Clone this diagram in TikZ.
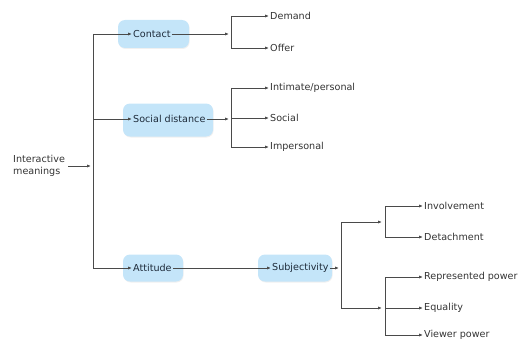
\documentclass[tikz,border=0pt]{standalone}
\usepackage{fontspec}
\setmainfont{DejaVu Sans}
\usetikzlibrary{arrows.meta,shadows,backgrounds}
\definecolor{linec}{HTML}{4A4A4A}
\definecolor{txtc}{HTML}{333333}
\definecolor{boxc}{HTML}{C4E5F9}
\definecolor{boxtxt}{HTML}{1E2B3A}
\tikzset{
  conn/.style={draw=linec, line width=0.8pt},
  arr/.style={conn, -{Latex[length=4pt,width=3.2pt]}},
  lbl/.style={text=txtc, inner sep=1pt, anchor=west, font=\fontsize{9.6}{11.5}\selectfont},
  boxlbl/.style={text=boxtxt, inner sep=1pt, anchor=west, font=\fontsize{9.6}{11.5}\selectfont},
  roundbox/.style={fill=boxc, draw=none, rounded corners=7pt, inner sep=0pt,
    drop shadow={opacity=0.12, shadow xshift=0.6pt, shadow yshift=-1pt}},
}
\begin{document}
\begin{tikzpicture}[x=1pt,y=-1pt]
\useasboundingbox (0,0) rectangle (521,342);
% boxes
\node[roundbox, minimum width=71pt, minimum height=28pt] (cbox) at (153.5,34) {};
\node[roundbox, minimum width=90pt, minimum height=33pt] (sbox) at (168,120) {};
\node[roundbox, minimum width=60pt, minimum height=27pt] (abox) at (153,268) {};
\node[roundbox, minimum width=74pt, minimum height=27pt] (subbox) at (295,268) {};
% box texts
\node[boxlbl] (contact) at (132,34) {Contact};
\node[boxlbl] (social) at (132,119) {Social distance};
\node[boxlbl] (attitude) at (132,268) {Attitude};
\node[boxlbl] (subj) at (271,268) {Subjectivity};
% root
\node[lbl, align=left] (im) at (12,166) {Interactive\\meanings};
% leaves
\node[lbl] (demand) at (269,16) {Demand};
\node[lbl] (offer) at (269,48) {Offer};
\node[lbl] (intimate) at (269,88) {Intimate/personal};
\node[lbl] (soc) at (269,118) {Social};
\node[lbl] (imp) at (269,147) {Impersonal};
\node[lbl] (inv) at (423,206) {Involvement};
\node[lbl] (det) at (423,237) {Detachment};
\node[lbl] (rep) at (423,277) {Represented power};
\node[lbl] (eq) at (423,308) {Equality};
\node[lbl] (view) at (423,335) {Viewer power};
% junction coordinates
\coordinate (r0) at (91,166);
\coordinate (vtop) at (93,34);
\coordinate (vmid) at (93,119);
\coordinate (vbot) at (93,268);
\coordinate (c1) at (229,34);
\coordinate (c1t) at (231,16);
\coordinate (c1b) at (231,48);
\coordinate (s1) at (229,119);
\coordinate (s1t) at (231,88);
\coordinate (s1b) at (231,147);
\coordinate (s1m) at (231,118);
\coordinate (u1) at (339,268);
\coordinate (u1t) at (341,222);
\coordinate (u1b) at (341,308);
\coordinate (u2) at (382,222);
\coordinate (u3) at (382,308);
\coordinate (p1t) at (385,206);
\coordinate (p1b) at (385,237);
\coordinate (p2t) at (385,277);
\coordinate (p2b) at (385,335);
\coordinate (p2m) at (385,308);
% root connectors
\draw[arr] (im.east |- r0) ++(2,0) -- (r0);
\draw[conn] (vtop) -- (vbot);
\draw[arr] (vtop) -- (contact.west);
\draw[arr] (vmid) -- (social.west);
\draw[arr] (vbot) -- (attitude.west);
% contact
\draw[arr] (contact.east) -- (c1);
\draw[conn] (c1t) -- (c1b);
\draw[arr] (c1t) -- (demand.west);
\draw[arr] (c1b) -- (offer.west);
% social distance
\draw[arr] (social.east) -- (s1);
\draw[conn] (s1t) -- (s1b);
\draw[arr] (s1t) -- (intimate.west);
\draw[arr] (s1m) -- (soc.west);
\draw[arr] (s1b) -- (imp.west);
% attitude
\draw[arr] (attitude.east) -- (subj.west);
\draw[arr] (subj.east) -- (u1);
\draw[conn] (u1t) -- (u1b);
\draw[arr] (u1t) -- (u2);
\draw[arr] (u1b) -- (u3);
\draw[conn] (p1t) -- (p1b);
\draw[conn] (p2t) -- (p2b);
\draw[arr] (p1t) -- (inv.west);
\draw[arr] (p1b) -- (det.west);
\draw[arr] (p2t) -- (rep.west);
\draw[arr] (p2m) -- (eq.west);
\draw[arr] (p2b) -- (view.west);
\end{tikzpicture}
\end{document}
